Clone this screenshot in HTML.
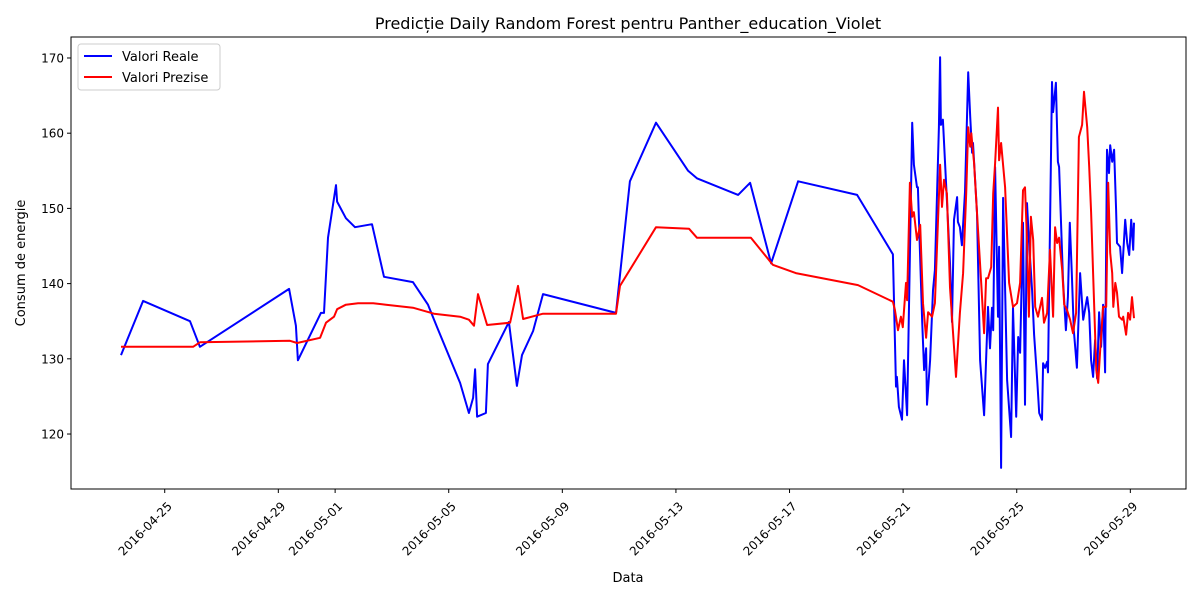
<!DOCTYPE html>
<html><head><meta charset="utf-8"><style>
body{margin:0;background:#fff;}
svg text{font-family:"DejaVu Sans","Liberation Sans",sans-serif;fill:#000;}
</style></head>
<body>
<svg id="chart" width="1200" height="600" viewBox="0 0 1200 600" xmlns="http://www.w3.org/2000/svg">
<rect width="1200" height="600" fill="#fff"/>
<text x="628" y="29" font-size="16" text-anchor="middle">Predicție Daily Random Forest pentru Panther_education_Violet</text>
<g id="plot"></g>
<text x="628" y="582" font-size="13" text-anchor="middle">Data</text>
<text transform="translate(25,263) rotate(-90)" font-size="13" text-anchor="middle">Consum de energie</text>
<g>
<rect x="78" y="44" width="142" height="46" rx="3" fill="#fff" fill-opacity="0.8" stroke="#ccc"/>
<line x1="84" y1="56" x2="112" y2="56" stroke="#0000ff" stroke-width="2"/>
<text x="122" y="61" font-size="13">Valori Reale</text>
<line x1="84" y1="77" x2="112" y2="77" stroke="#ff0000" stroke-width="2"/>
<text x="122" y="82" font-size="13">Valori Prezise</text>
</g>
</svg>
<script>
// days offset from 2016-04-25
const realDays=[-1.54,-0.76,0.89,1.24,4.38,4.62,4.69,5.50,5.61,5.75,6.03,6.07,6.38,6.70,7.30,7.72,8.74,9.27,9.59,10.40,10.71,10.86,10.93,11.00,11.31,11.38,12.12,12.40,12.58,12.97,13.32,15.89,16.38,17.30,18.43,18.74,20.19,20.61,21.35,22.30,24.38,25.64,25.75,25.78,25.85,25.96,26.03,26.14,26.32,26.38,26.49,26.52,26.67,26.74,26.81,26.84,26.95,27.05,27.12,27.26,27.30,27.33,27.40,27.54,27.65,27.72,27.79,27.90,27.93,28.00,28.07,28.18,28.29,28.36,28.43,28.46,28.60,28.71,28.85,28.99,29.06,29.13,29.17,29.24,29.34,29.38,29.45,29.52,29.66,29.80,29.87,29.98,30.05,30.12,30.22,30.29,30.36,30.43,30.54,30.61,30.72,30.79,30.89,30.93,31.00,31.07,31.10,31.24,31.28,31.38,31.45,31.49,31.63,31.73,31.80,31.87,31.94,32.01,32.12,32.23,32.34,32.48,32.55,32.62,32.69,32.76,32.83,32.90,32.97,33.04,33.11,33.18,33.25,33.29,33.36,33.43,33.50,33.53,33.64,33.71,33.82,33.89,33.96,34.03,34.10,34.13];
const realValues=[130.5,137.7,135.0,131.6,139.3,134.4,129.8,136.1,136.1,146.1,153.1,150.9,148.7,147.5,147.9,140.9,140.2,137.2,134.2,126.8,122.8,124.8,128.6,122.3,122.8,129.3,134.9,126.4,130.5,133.7,138.6,136.1,153.6,161.4,155.0,154.0,151.8,153.4,142.7,153.6,151.8,143.9,126.3,127.6,123.6,121.9,129.8,122.5,161.4,155.8,152.8,152.8,134.9,128.5,131.4,123.9,129.8,139.1,141.8,160.8,170.1,161.1,161.8,151.1,142.7,134.9,148.5,151.5,148.2,147.5,145.1,152.2,168.1,162.2,157.4,158.7,149.4,129.8,122.5,136.9,131.4,136.8,133.8,155.5,135.6,144.9,115.5,151.4,127.2,119.6,136.8,122.3,132.9,130.8,148.1,123.9,150.7,145.8,139.1,133.2,127.2,122.8,121.9,129.4,128.8,129.6,128.2,166.8,162.8,166.7,156.2,155.5,140.5,133.8,138.2,148.1,141.4,133.8,128.8,141.4,135.2,138.2,136.1,129.8,127.6,132.5,127.4,136.2,131.6,137.2,128.2,157.8,154.7,158.4,156.2,157.8,149.8,145.4,144.9,141.4,148.5,145.4,143.8,148.5,144.5,148.1];
const predDays=[-1.54,1.00,1.24,4.41,4.66,5.47,5.68,5.96,6.07,6.38,6.81,7.34,7.79,8.74,9.48,10.40,10.71,10.89,11.03,11.35,12.16,12.44,12.62,13.32,15.89,16.03,17.30,18.46,18.74,20.64,21.41,22.22,24.41,25.64,25.71,25.82,25.92,25.99,26.10,26.14,26.24,26.32,26.38,26.49,26.60,26.70,26.81,26.88,27.02,27.12,27.30,27.37,27.44,27.54,27.65,27.86,28.00,28.11,28.22,28.29,28.36,28.40,28.50,28.60,28.75,28.85,28.92,28.99,29.10,29.17,29.24,29.34,29.38,29.45,29.59,29.73,29.87,30.01,30.12,30.22,30.29,30.36,30.43,30.50,30.58,30.65,30.75,30.89,30.96,31.07,31.17,31.28,31.35,31.42,31.49,31.60,31.67,31.77,31.88,31.98,32.09,32.19,32.30,32.37,32.48,32.55,32.62,32.69,32.80,32.87,32.94,33.04,33.15,33.22,33.29,33.36,33.40,33.47,33.53,33.60,33.71,33.75,33.85,33.92,33.99,34.06,34.13];
const predValues=[131.6,131.6,132.2,132.4,132.1,132.8,134.8,135.6,136.6,137.2,137.4,137.4,137.2,136.8,136.0,135.6,135.2,134.4,138.6,134.5,134.8,139.7,135.3,136.0,136.0,139.7,147.5,147.3,146.1,146.1,142.5,141.4,139.8,137.6,136.5,133.8,135.6,134.2,140.1,137.8,153.4,148.9,149.5,145.8,147.8,137.4,132.8,136.2,135.6,137.4,155.8,150.2,153.8,152.0,139.5,127.6,136.1,141.4,152.0,160.8,158.2,160.0,156.0,149.4,140.1,133.4,140.7,140.7,142.2,152.0,156.0,163.4,156.4,158.7,152.8,140.1,136.9,137.4,140.1,152.4,152.8,145.8,135.6,148.9,145.8,136.9,135.6,138.1,134.8,136.1,144.5,135.6,147.5,145.4,146.1,141.8,137.2,136.5,135.2,133.4,136.1,159.5,161.1,165.5,160.8,155.5,149.5,141.4,128.5,126.8,131.2,136.9,136.9,153.4,144.1,141.4,136.9,140.1,138.8,135.6,135.2,135.6,133.2,136.1,135.2,138.2,135.4];
const yTicks=[120,130,140,150,160,170];
const xTickDays=[0,4,6,10,14,18,22,26,30,34];
const xTickLabels=["2016-04-25","2016-04-29","2016-05-01","2016-05-05","2016-05-09","2016-05-13","2016-05-17","2016-05-21","2016-05-25","2016-05-29"];

const L=71,R=1186,T=37,B=489;
const xMin=-3.30,xMax=35.96,yMin=112.69,yMax=172.79;
const xs=d=>L+(d-xMin)/(xMax-xMin)*(R-L);
const ys=v=>B-(v-yMin)/(yMax-yMin)*(B-T);
const NS="http://www.w3.org/2000/svg";
const plot=document.getElementById('plot');
function mk(tag,attrs){const e=document.createElementNS(NS,tag);for(const k in attrs)e.setAttribute(k,attrs[k]);return e;}

yTicks.forEach(v=>{
  const y=ys(v);
  const t=mk('line',{x1:L-4,x2:L,y1:y,y2:y,stroke:'#000','stroke-width':1});
  
  
  plot.appendChild(t);
  const lb=mk('text',{x:L-7,y:y+4.5,'font-size':12,'text-anchor':'end'});
  
  
  lb.textContent=v;plot.appendChild(lb);
});
xTickDays.forEach((d,i)=>{
  const x=xs(d);
  const t=mk('line',{x1:x,x2:x,y1:B,y2:B+4,stroke:'#000','stroke-width':1});
  
  
  plot.appendChild(t);
  const lb=mk('text',{transform:`translate(${x+8},${B+18}) rotate(-45)`,'font-size':12,'text-anchor':'end'});
  
  
  lb.textContent=xTickLabels[i];plot.appendChild(lb);
});
function series(days,vals,color,name){
  const p=mk('polyline',{points:days.map((d,i)=>xs(d).toFixed(1)+','+ys(vals[i]).toFixed(1)).join(' '),fill:'none',stroke:color,'stroke-width':2,'stroke-linejoin':'round'});
  
  
  plot.appendChild(p);
}
series(realDays,realValues,'#0000ff','real-values-line');
series(predDays,predValues,'#ff0000','predicted-values-line');
const frame=mk('rect',{x:L,y:T,width:R-L,height:B-T,fill:'none',stroke:'#000','stroke-width':1});


plot.appendChild(frame);
</script>
</body></html>
